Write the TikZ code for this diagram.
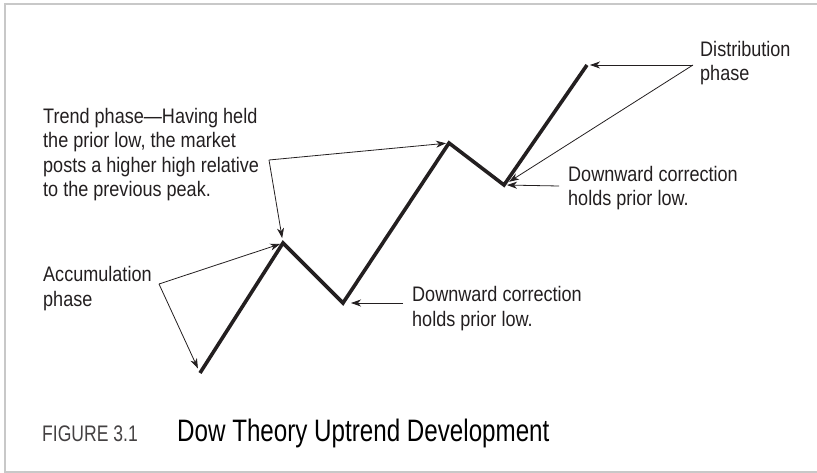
\documentclass[tikz,border=0pt]{standalone}
\usepackage{fontspec}
\usepackage{xcolor}
\usetikzlibrary{arrows.meta}
\setmainfont{Liberation Sans}[FakeStretch=0.86]
\newfontfamily\capfont{Liberation Sans}[FakeStretch=0.78]
\definecolor{ink}{HTML}{231F20}
\definecolor{frame}{HTML}{C8C8C8}

\begin{document}
\begin{tikzpicture}[x=1pt, y=-1pt,
          lbl/.style={anchor=base west, align=left, inner sep=0pt, text=ink,
                      font=\fontsize{21}{24.5}\selectfont},
          trend/.style={ink, line width=3.6pt, line join=miter, line cap=butt},
          ar/.style={ink, line width=0.8pt, -{Stealth[length=10pt, width=7pt, inset=3pt]}}
        ]
        \useasboundingbox (0,0) rectangle (817,473);
        \draw[frame, line width=2pt] (817,4) -- (5,4) -- (5,472) -- (817,472);

        % price path
        \coordinate (p0) at (200,373);
        \coordinate (p1) at (283,243);
        \coordinate (p2) at (343,303);
        \coordinate (p3) at (449,143);
        \coordinate (p4) at (504,185);
        \coordinate (p5) at (587,65);
        \draw[trend] (p0) -- (p1) -- (p2) -- (p3) -- (p4) -- (p5);

        % labels (base = last line)
        \node[lbl] (trendtxt) at (43,197) {Trend phase---Having held\\the prior low, the market\\posts a higher high relative\\to the previous peak.};
        \node[lbl] (acctxt) at (43,306) {Accumulation\\phase};
        \node[lbl] (corr1) at (412,326) {Downward correction\\holds prior low.};
        \node[lbl] (corr2) at (568,206) {Downward correction\\holds prior low.};
        \node[lbl] (disttxt) at (700,81) {Distribution\\phase};

        % pointers
        \coordinate (accv) at (159,284);
        \coordinate (trendv) at (269,160);
        \coordinate (c1v) at (403,303);
        \coordinate (c2v) at (559,186);
        \coordinate (distv) at (693,65);
        \draw[ar, shorten >=3pt] (accv) -- (p1);
        \draw[ar, shorten >=5pt] (accv) -- (p0);
        \draw[ar, shorten >=3pt] (trendv) -- (p3);
        \draw[ar, shorten >=5pt] (trendv) -- (p1);
        \draw[ar, shorten >=8pt] (c1v) -- (p2);
        \draw[ar, shorten >=3pt] (c2v) -- (p4);
        \draw[ar, shorten >=3pt] (distv) -- (p5);
        \draw[ar, shorten >=6pt] (distv) -- (p4);

        % caption
        \node[lbl, font=\capfont\fontsize{22.5}{24}\selectfont, text=ink!85] (fignum) at (42,441) {FIGURE 3.1};
        \node[lbl, text=black, font=\capfont\fontsize{31}{34}\selectfont] (figtitle) at (177,441) {Dow Theory Uptrend Development};
      \end{tikzpicture}
\end{document}
